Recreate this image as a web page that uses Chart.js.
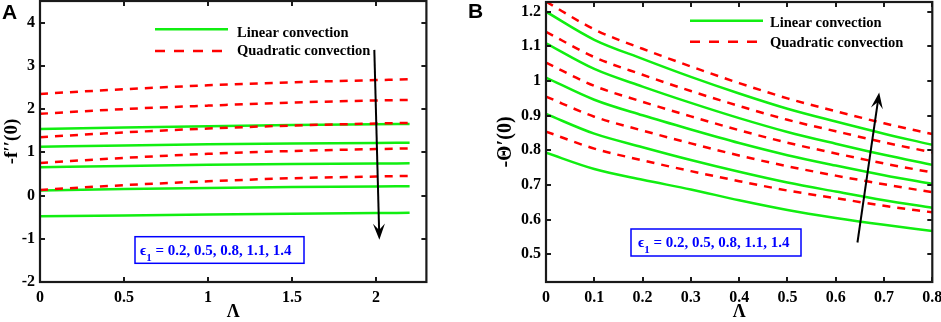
<!DOCTYPE html>
<html><head><meta charset="utf-8">
<script src="https://cdn.jsdelivr.net/npm/chart.js@4.4.0/dist/chart.umd.min.js"></script>
<style>
html,body{margin:0;padding:0;background:#fff;width:941px;height:322px;overflow:hidden;}
.wrap{position:absolute;top:0;height:322px;}
#wa{left:0;width:470px;}
#wb{left:470px;width:471px;}
.panel{position:absolute;font:bold 21px "Liberation Sans",Arial,sans-serif;line-height:1;color:#000;}
</style></head><body>
<div id="wa" class="wrap"><canvas id="ca" width="470" height="322"></canvas></div>
<div id="wb" class="wrap"><canvas id="cb" width="471" height="322"></canvas></div>
<div class="panel" style="left:2px;top:1px;">A</div>
<div class="panel" style="left:468px;top:0px;">B</div>
<script>
// ---------- Panel A data ----------
const xA = [0, 0.5, 1, 1.5, 2, 2.2];
const linA1 = [1.54, 1.575, 1.605, 1.63, 1.65, 1.655];
const linA2 = [1.13, 1.16, 1.185, 1.205, 1.217, 1.22];
const linA3 = [0.655, 0.685, 0.71, 0.728, 0.741, 0.745];
const linA4 = [0.115, 0.15, 0.175, 0.195, 0.21, 0.215];
const linA5 = [-0.48, -0.46, -0.44, -0.42, -0.405, -0.40];
const quadA1 = [2.35, 2.46, 2.55, 2.62, 2.67, 2.69];
const quadA2 = [1.89, 2.00, 2.08, 2.15, 2.20, 2.21];
const quadA3 = [1.35, 1.46, 1.55, 1.62, 1.665, 1.68];
const quadA4 = [0.755, 0.87, 0.965, 1.03, 1.075, 1.09];
const quadA5 = [0.13, 0.24, 0.33, 0.40, 0.44, 0.455];
const xTicksA = [0, 0.5, 1, 1.5, 2];
const xTickLabelsA = ['0', '0.5', '1', '1.5', '2'];
const yTicksA = [-2, -1, 0, 1, 2, 3, 4];
const yTickLabelsA = ['-2', '-1', '0', '1', '2', '3', '4'];

// ---------- Panel B data ----------
const xB = [0, 0.1, 0.2, 0.3, 0.4, 0.5, 0.6, 0.7, 0.8];
const linB1 = [1.200, 1.119, 1.064, 1.012, 0.964, 0.920, 0.883, 0.848, 0.816];
const linB2 = [1.109, 1.035, 0.984, 0.937, 0.893, 0.853, 0.819, 0.787, 0.758];
const linB3 = [1.010, 0.946, 0.901, 0.860, 0.821, 0.786, 0.756, 0.728, 0.703];
const linB4 = [0.905, 0.848, 0.809, 0.772, 0.738, 0.707, 0.681, 0.656, 0.634];
const linB5 = [0.793, 0.746, 0.715, 0.687, 0.656, 0.628, 0.605, 0.585, 0.567];
const quadB1 = [1.229, 1.149, 1.093, 1.042, 0.994, 0.950, 0.913, 0.878, 0.847];
const quadB2 = [1.142, 1.069, 1.018, 0.971, 0.928, 0.888, 0.855, 0.823, 0.794];
const quadB3 = [1.053, 0.986, 0.940, 0.898, 0.858, 0.822, 0.791, 0.762, 0.736];
const quadB4 = [0.955, 0.897, 0.857, 0.820, 0.785, 0.754, 0.727, 0.702, 0.679];
const quadB5 = [0.854, 0.805, 0.771, 0.740, 0.711, 0.684, 0.662, 0.640, 0.621];
const xTicksB = [0, 0.1, 0.2, 0.3, 0.4, 0.5, 0.6, 0.7, 0.8];
const xTickLabelsB = ['0', '0.1', '0.2', '0.3', '0.4', '0.5', '0.6', '0.7', '0.8'];
const yTicksB = [0.5, 0.6, 0.7, 0.8, 0.9, 1.0, 1.1, 1.2];
const yTickLabelsB = ['0.5', '0.6', '0.7', '0.8', '0.9', '1', '1.1', '1.2'];

const legendLabels = ['Linear convection', 'Quadratic convection'];
const paramText = ' = 0.2, 0.5, 0.8, 1.1, 1.4';

// ---------- styling ----------
const GREEN = '#11ee11';
const RED = '#ff0000';
const SERIF = '"Liberation Serif","Times New Roman",serif';
const tickFont = {family: SERIF, size: 16, weight: 'bold'};

function ds(xs, ys, color, dashed) {
  return {
    data: xs.map((x, i) => ({x: x, y: ys[i]})),
    borderColor: color, borderWidth: 2.5,
    borderDash: dashed ? [8, 7] : [],
    pointRadius: 0, fill: false, cubicInterpolationMode: 'monotone'
  };
}

function decor(cfg) {
  return {
    id: 'decor',
    afterDraw(chart) {
      const ctx = chart.ctx, a = chart.chartArea;
      const sx = chart.scales.x, sy = chart.scales.y;
      ctx.save();
      // inner ticks on all four sides
      ctx.strokeStyle = '#1a1a1a'; ctx.lineWidth = 2; ctx.setLineDash([]);
      const tl = 5;
      sx.ticks.forEach(t => {
        const p = Math.round(sx.getPixelForValue(t.value));
        ctx.beginPath();
        ctx.moveTo(p, a.bottom); ctx.lineTo(p, a.bottom - tl);
        ctx.moveTo(p, a.top); ctx.lineTo(p, a.top + tl);
        ctx.stroke();
      });
      sy.ticks.forEach(t => {
        const p = Math.round(sy.getPixelForValue(t.value));
        ctx.beginPath();
        ctx.moveTo(a.left, p); ctx.lineTo(a.left + tl, p);
        ctx.moveTo(a.right, p); ctx.lineTo(a.right - tl, p);
        ctx.stroke();
      });
      // frame
      ctx.lineWidth = 2.2;
      ctx.strokeRect(a.left, a.top, a.right - a.left, a.bottom - a.top);

      // legend
      const L = cfg.legend;
      ctx.lineWidth = 2.5;
      ctx.strokeStyle = GREEN; ctx.setLineDash([]);
      ctx.beginPath(); ctx.moveTo(L.x1, L.y1); ctx.lineTo(L.x2, L.y1); ctx.stroke();
      ctx.strokeStyle = RED; ctx.setLineDash([10, 9]);
      ctx.beginPath(); ctx.moveTo(L.x1, L.y2); ctx.lineTo(L.x2, L.y2); ctx.stroke();
      ctx.setLineDash([]);
      ctx.fillStyle = '#000';
      ctx.font = 'bold 14.5px ' + SERIF;
      ctx.textBaseline = 'alphabetic'; ctx.textAlign = 'left';
      ctx.fillText(legendLabels[0], L.tx, L.b1);
      ctx.fillText(legendLabels[1], L.tx, L.b2);

      // parameter box
      const B = cfg.box;
      ctx.strokeStyle = '#0000ff'; ctx.lineWidth = 1.5;
      ctx.strokeRect(B.x, B.y, B.w, B.h);
      ctx.fillStyle = '#0000ff';
      ctx.font = 'bold 15px ' + SERIF;
      let x = B.tx;
      ctx.fillText('\u03F5', x, B.base);
      x += ctx.measureText('\u03F5').width;
      ctx.font = 'bold 11px ' + SERIF;
      ctx.fillText('1', x, B.base + 6);
      x += ctx.measureText('1').width;
      ctx.font = 'bold 15px ' + SERIF;
      ctx.fillText(paramText, x, B.base);

      // arrow (in data units)
      const A = cfg.arrow;
      const p0 = {x: sx.getPixelForValue(A.from[0]), y: sy.getPixelForValue(A.from[1])};
      const p1 = {x: sx.getPixelForValue(A.to[0]), y: sy.getPixelForValue(A.to[1])};
      const dx = p1.x - p0.x, dy = p1.y - p0.y, len = Math.hypot(dx, dy);
      const ux = dx / len, uy = dy / len, nx = -uy, ny = ux;
      const hl = 16, hw = 6;
      ctx.strokeStyle = '#000'; ctx.fillStyle = '#000'; ctx.lineWidth = 2;
      ctx.beginPath(); ctx.moveTo(p0.x, p0.y);
      ctx.lineTo(p1.x - ux * hl * 0.6, p1.y - uy * hl * 0.6); ctx.stroke();
      ctx.beginPath();
      ctx.moveTo(p1.x, p1.y);
      ctx.lineTo(p1.x - ux * hl + nx * hw, p1.y - uy * hl + ny * hw);
      ctx.lineTo(p1.x - ux * hl * 0.6, p1.y - uy * hl * 0.6);
      ctx.lineTo(p1.x - ux * hl - nx * hw, p1.y - uy * hl - ny * hw);
      ctx.closePath(); ctx.fill();
      ctx.restore();
    }
  };
}

function makeChart(id, spec) {
  const datasets = [];
  spec.quad.forEach(q => datasets.push(ds(spec.xs, q, RED, true)));
  spec.lin.forEach(l => datasets.push(ds(spec.xs, l, GREEN, false)));
  return new Chart(document.getElementById(id), {
    type: 'line',
    data: {datasets: datasets},
    options: {
      responsive: false, animation: false, events: [],
      layout: {padding: spec.padding},
      plugins: {legend: {display: false}, tooltip: {enabled: false}},
      scales: {
        x: {
          type: 'linear', min: spec.xmin, max: spec.xmax,
          grid: {display: false, drawTicks: false}, border: {display: false},
          ticks: {padding: 6, font: tickFont, color: '#000', maxRotation: 0, autoSkip: false,
                  callback: (v, i) => spec.xLabels[i]},
          afterBuildTicks: s => { s.ticks = spec.xTicks.map(v => ({value: v})); },
          afterFit: s => { s.height = 40; s.paddingLeft = 0; s.paddingRight = 0; },
          title: {display: true, text: '\u039B', color: '#000',
                  font: {family: SERIF, size: 18, weight: 'bold'}, padding: {top: 0, bottom: -1}}
        },
        y: {
          type: 'linear', min: spec.ymin, max: spec.ymax,
          grid: {display: false, drawTicks: false}, border: {display: false},
          ticks: {padding: 5, font: tickFont, color: '#000', autoSkip: false,
                  callback: (v, i) => spec.yLabels[i]},
          afterBuildTicks: s => { s.ticks = spec.yTicks.map(v => ({value: v})); },
          afterFit: s => { s.width = spec.yWidth; s.paddingTop = 0; s.paddingBottom = 0; },
          title: {display: true, text: spec.yTitle, color: '#000',
                  font: {family: SERIF, size: spec.yTitleSize, weight: 'bold'}, padding: {top: spec.yTitlePad, bottom: 0}}
        }
      }
    },
    plugins: [decor(spec.decor)]
  });
}

makeChart('ca', {
  xs: xA,
  lin: [linA1, linA2, linA3, linA4, linA5],
  quad: [quadA1, quadA2, quadA3, quadA4, quadA5],
  xmin: 0, xmax: 2.3, ymin: -2, ymax: 4.5,
  xTicks: xTicksA, xLabels: xTickLabelsA, yTicks: yTicksA, yLabels: yTickLabelsA,
  padding: {left: 0, right: 43.6, top: 1, bottom: 0},
  yWidth: 40, yTitle: '-f\u2032\u2032(0)', yTitleSize: 19, yTitlePad: 1,
  decor: {
    legend: {x1: 155, x2: 228, y1: 29.3, y2: 51, tx: 237, b1: 36.7, b2: 55},
    box: {x: 135, y: 236.7, w: 169, h: 26.6, tx: 140, base: 254.5},
    arrow: {from: [1.99, 3.37], to: [2.02, -1.02]}
  }
});

makeChart('cb', {
  xs: xB,
  lin: [linB1, linB2, linB3, linB4, linB5],
  quad: [quadB1, quadB2, quadB3, quadB4, quadB5],
  xmin: 0, xmax: 0.8, ymin: 0.42, ymax: 1.228,
  xTicks: xTicksB, xLabels: xTickLabelsB, yTicks: yTicksB, yLabels: yTickLabelsB,
  padding: {left: 0, right: 8.7, top: 2, bottom: 0},
  yWidth: 76, yTitle: '-\u0398\u2032(0)', yTitleSize: 20, yTitlePad: 24,
  decor: {
    legend: {x1: 220, x2: 293, y1: 20.7, y2: 41.7, tx: 300, b1: 26.7, b2: 46.7},
    box: {x: 161, y: 229, w: 170, h: 27, tx: 168, base: 246.8},
    arrow: {from: [0.645, 0.534], to: [0.69, 0.967]}
  }
});
</script>
</body></html>
